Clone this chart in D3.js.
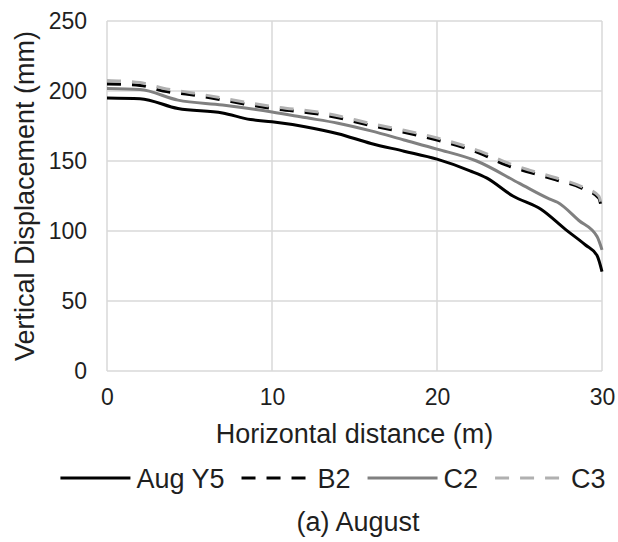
<!DOCTYPE html>
<html>
<head>
<meta charset="utf-8">
<script src="https://cdn.jsdelivr.net/npm/d3@7"></script>
<style>
  body { margin: 0; background: #fff; }
  svg text { font-family: "Liberation Sans", Arial, sans-serif; fill: #1f1f1f; }
</style>
</head>
<body>
<div id="chart"></div>
<script>
var WIDTH = 618, HEIGHT = 542;

// data (x in m, y in mm)
const augY5_x = [0, 2, 4.3, 7, 8.7, 10, 12, 14, 16, 18, 20, 22, 23, 24.6, 26.3, 27.8, 29, 29.7, 30];
const augY5_y = [195, 194.5, 187.5, 184.3, 179.6, 178, 174.5, 169.5, 162.5, 157, 151.3, 143, 138, 125, 115.5, 101, 90, 82.5, 71];

const b2_x = [0, 2, 3.4, 5, 10, 13.3, 16.3, 18, 20, 22.6, 24.2, 25.6, 27.2, 28.8, 29.8, 30];
const b2_y = [205, 204, 200, 197.5, 187.5, 182.6, 174.5, 170.5, 165, 155.5, 147, 142, 136.5, 130.5, 123.5, 114];

const c2_x = [0, 2, 4.3, 7, 10, 12, 14, 16, 18, 20, 22.4, 25, 26.8, 27.3, 28.6, 29.7, 30];
const c2_y = [201.7, 201, 193.5, 190, 185, 181, 177, 171.5, 165, 158.5, 150, 134, 123, 120.5, 107.5, 96, 86.5];

const c3_x = [0, 2, 3.4, 5, 10, 13.3, 16.3, 18, 20, 22.6, 24.2, 25.6, 27.2, 28.8, 29.8, 30];
const c3_y = [207.5, 206, 202, 199, 189, 184, 176, 172, 166.5, 157, 149, 143.5, 138, 131.5, 125, 116];

const series_names = ["Aug Y5", "B2", "C2", "C3"];
const x_ticks = [0, 10, 20, 30];
const y_ticks = [0, 50, 100, 150, 200, 250];

var LEFT = 107, RIGHT = 16, TOP = 21, BOTTOM = 171;

const svg = d3.select("#chart").append("svg").attr("width", WIDTH).attr("height", HEIGHT)
const g = svg.append("g").attr("transform", "translate(" + LEFT + "," + TOP + ")")

const pw = WIDTH - LEFT - RIGHT, ph = HEIGHT - TOP - BOTTOM;
const x_scale = d3.scaleLinear().domain([0, 30]).range([0, pw])
const y_scale = d3.scaleLinear().domain([0, 250]).range([ph, 0])

// gridlines
g.selectAll(".hgrid").data(y_ticks).enter().append("line")
  .attr("x1", 0).attr("x2", pw).attr("y1", d => y_scale(d)).attr("y2", d => y_scale(d))
  .attr("stroke", "#d9d9d9").attr("stroke-width", 1.5)
g.selectAll(".vgrid").data(x_ticks).enter().append("line")
  .attr("y1", 0).attr("y2", ph).attr("x1", d => x_scale(d)).attr("x2", d => x_scale(d))
  .attr("stroke", "#d9d9d9").attr("stroke-width", 1.5)

// axes (text only, lines are the grid)
const gen_x = d3.axisBottom(x_scale).tickValues(x_ticks).tickSize(0).tickPadding(18)
g.append("g").attr("transform", "translate(0," + ph + ")").call(gen_x)
  .call(a => a.select(".domain").remove())
  .selectAll("text").style("font-size", "23px").attr("font-family", null)

const gen_y = d3.axisLeft(y_scale).tickValues(y_ticks).tickSize(0).tickPadding(20)
g.append("g").call(gen_y)
  .call(a => a.select(".domain").remove())
  .selectAll("text").style("font-size", "23px").attr("font-family", null)

g.append("text").attr("x", pw / 2).attr("y", 422).attr("text-anchor", "middle")
  .style("font-size", "27px").text("Horizontal distance (m)")
g.append("text").attr("transform", "rotate(-90)").attr("x", -ph / 2).attr("y", -73)
  .attr("text-anchor", "middle").style("font-size", "27px").text("Vertical Displacement (mm)")

// series
const styles = [
  { color: "#000000", dash: null },
  { color: "#000000", dash: "14,11" },
  { color: "#808080", dash: null },
  { color: "#b0b0b0", dash: "14,11" }
]
const series = [
  d3.zip(augY5_x, augY5_y),
  d3.zip(b2_x, b2_y),
  d3.zip(c2_x, c2_y),
  d3.zip(c3_x, c3_y)
]
const line = d3.line().x(d => x_scale(d[0])).y(d => y_scale(d[1])).curve(d3.curveMonotoneX)

series.forEach((pts, i) => {
  g.append("path").datum(pts).attr("d", line).attr("fill", "none")
    .attr("stroke", styles[i].color).attr("stroke-width", 3)
    .attr("stroke-dasharray", styles[i].dash)
    .attr("stroke-linejoin", "round")
})

// legend
const legend = svg.append("g").attr("id", "legend")
var pos = 0
series_names.forEach((name, i) => {
  const row = legend.append("g").attr("transform", "translate(" + pos + ",0)")
  row.append("line").attr("x1", 0).attr("x2", 70).attr("y1", 0).attr("y2", 0)
    .attr("stroke", styles[i].color).attr("stroke-width", 3).attr("stroke-dasharray", styles[i].dash)
  const t = row.append("text").attr("x", 76).attr("y", 9.5).style("font-size", "27px").text(name)
  pos += 76 + t.node().getComputedTextLength() + 17
})
pos -= 17
legend.attr("transform", "translate(" + (333 - pos / 2) + ",478)")

svg.append("text").attr("x", 358).attr("y", 531).attr("text-anchor", "middle")
  .style("font-size", "27px").text("(a) August")
</script>
</body>
</html>
